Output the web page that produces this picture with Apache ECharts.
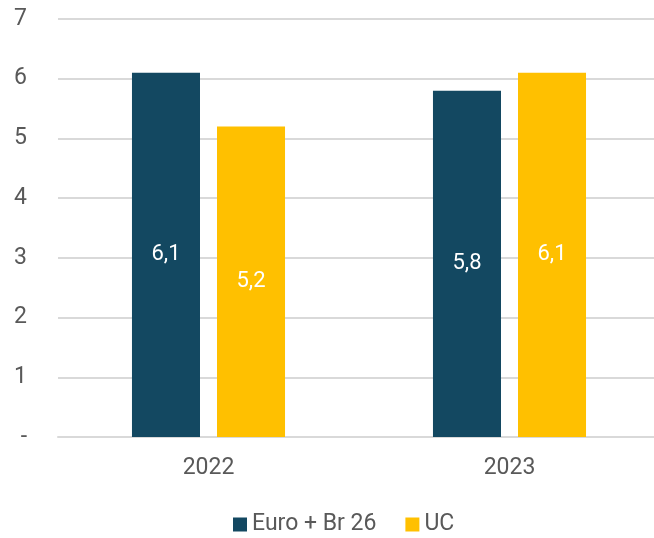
<!DOCTYPE html>
<html>
<head>
<meta charset="utf-8">
<script src="https://cdn.jsdelivr.net/npm/echarts@6/dist/echarts.min.js"></script>
<style>
  html, body { margin: 0; padding: 0; background: #ffffff; overflow: hidden; }
  #chart { width: 660px; height: 538px; }
</style>
</head>
<body>
<div id="chart"></div>
<script>
// Years on the category axis
const years = ['2022', '2023'];
// Series values
const euroBr26 = [6.1, 5.8];
const uc = [5.2, 6.1];
// Series names
const seriesNames = ['Euro + Br 26', 'UC'];
// Y-axis range
const yMin = 0, yMax = 7, yStep = 1;

const fmtComma = v => v.toFixed(1).replace('.', ',');
const textColor = '#595959';
const font = 'Roboto, "Liberation Sans", sans-serif';

const chart = echarts.init(document.getElementById('chart'), null, { renderer: 'canvas' });

function barSeries(name, data, color) {
  return {
    name: name,
    type: 'bar',
    data: data,
    barWidth: '22.6%',
    barGap: '25%',
    itemStyle: { color: color },
    label: {
      show: true,
      position: 'inside',
      color: '#ffffff',
      fontSize: 22,
      fontFamily: font,
      formatter: p => fmtComma(p.value)
    }
  };
}

chart.setOption({
  animation: false,
  backgroundColor: '#ffffff',
  grid: { left: 58, right: 0, top: 19, bottom: 101, containLabel: false },
  legend: {
    top: 513,
    left: 233,
    padding: 0,
    itemWidth: 14,
    itemHeight: 14,
    itemGap: 29,
    icon: 'rect',
    textStyle: { color: textColor, fontSize: 23, fontFamily: font },
    data: seriesNames
  },
  xAxis: {
    type: 'category',
    data: years,
    axisLine: { show: true, lineStyle: { color: '#d9d9d9', width: 2 } },
    axisTick: { show: false },
    axisLabel: { color: textColor, fontSize: 23, fontFamily: font, margin: 20 }
  },
  yAxis: {
    type: 'value',
    min: yMin,
    max: yMax,
    interval: yStep,
    axisLine: { show: false },
    axisTick: { show: false },
    splitLine: { lineStyle: { color: '#d9d9d9', width: 2 } },
    axisLabel: {
      color: textColor, fontSize: 23, fontFamily: font, margin: 31,
      formatter: v => (v === 0 ? '-' : String(v))
    }
  },
  series: [
    barSeries(seriesNames[0], euroBr26, '#134861'),
    barSeries(seriesNames[1], uc, '#ffc000')
  ]
});
</script>
</body>
</html>
